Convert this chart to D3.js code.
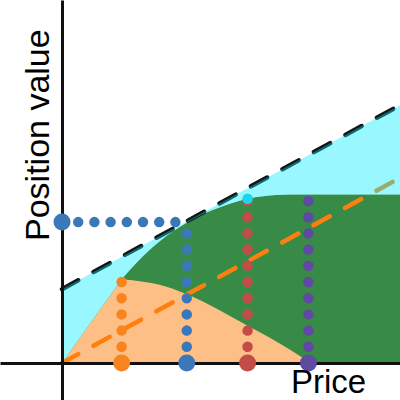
<!DOCTYPE html>
<html><head><meta charset="utf-8">
<script src="https://cdn.jsdelivr.net/npm/d3@7"></script>
<style>html,body{margin:0;padding:0;background:#fff;} svg{display:block;}</style>
</head><body>
<svg id="chart" width="400" height="400"></svg>
<script>
// ---- data ----
const boundX = [0, 5.5];
const upperBoundY = [1.2, 4.19];   // black dashed line
const lowerBoundY = [0, 3.01];     // orange dashed line
const riseX = [0, 0.97];
const riseY = [0, 1.36];
const humpX = [0.97, 1.32, 1.59, 1.97, 2.41, 2.94, 3.50, 3.92, 4.03];
const humpY = [1.36, 1.32, 1.27, 1.14, 0.94, 0.65, 0.34, 0.08, 0];
const valueX = [0.97, 1.32, 1.59, 1.84, 2.03, 2.41, 2.73, 3.02, 3.27, 3.71, 5.5];
const valueY = [1.36, 1.74, 1.98, 2.16, 2.28, 2.47, 2.59, 2.67, 2.71, 2.74, 2.74];
const markX = [0.97, 2.03, 3.02, 4.01];
const markTop = [1.36, 2.29, 2.67, 2.71];
const markColors = ["#f7841e", "#3b78b8", "#c44c46", "#5e4aa0"];
const levelY = 2.29;
const xLabel = "Price";
const yLabel = "Position value";

// ---- layout ----
const W = 400, H = 400;
const x = d3.scaleLinear().domain([0, 5.5]).range([62, 400]);
const y = d3.scaleLinear().domain([0, 5.9]).range([363, 0]);
const svg = d3.select("#chart");
const pts = (xs, ys) => xs.map((v, i) => [v, ys[i]]);
const lin = d3.line().x(d => x(d[0])).y(d => y(d[1]));
const mono = d3.line().x(d => x(d[0])).y(d => y(d[1])).curve(d3.curveMonotoneX);

const rise = lin(pts(riseX, riseY));
const humpPath = rise + mono(pts(humpX, humpY)).replace(/^M/, "L") + "Z";
const valueCurve = rise + mono(pts(valueX, valueY)).replace(/^M/, "L");
const lastX = x(valueX[valueX.length - 1]);
const greenPath = valueCurve + `L${lastX},${y(0)}Z`;
const topPx = y.range()[1];
const abovePath = valueCurve + `L${lastX},${topPx}L${x(riseX[0])},${topPx}Z`;

svg.append("defs").append("clipPath").attr("id", "aboveValue")
  .append("path").attr("d", abovePath);

svg.append("path").attr("d", greenPath).attr("fill", "#388b47");
svg.append("path").attr("d", humpPath).attr("fill", "#fdbf86");

svg.append("path").attr("d", lin(pts(boundX, lowerBoundY)))
  .attr("fill", "none").attr("stroke", "#ff7f0e").attr("stroke-width", 4.5)
  .attr("stroke-linecap", "round").attr("stroke-dasharray", "18.5 17.35");
svg.append("path").attr("d", lin(pts(boundX, upperBoundY)))
  .attr("fill", "none").attr("stroke", "#151515").attr("stroke-width", 4.5)
  .attr("stroke-linecap", "round").attr("stroke-dasharray", "18.5 17.35");

const band = d3.area().x(d => x(d[0])).y0(y(0)).y1(d => y(d[1]));
svg.append("path").attr("d", band(pts(boundX, upperBoundY)))
  .attr("fill", "rgb(0,237,255)").attr("fill-opacity", 0.4)
  .attr("clip-path", "url(#aboveValue)");

// axes (spines crossing at the origin, no ticks)
const xAxisScale = d3.scaleLinear().domain([x.invert(0), x.invert(W)]).range([0, W]);
const yAxisScale = d3.scaleLinear().domain([y.invert(H), y.invert(0)]).range([H, 0]);
const gx = svg.append("g").attr("transform", `translate(0,${y(0)})`)
  .call(d3.axisBottom(xAxisScale).tickValues([]).tickSizeOuter(0));
const gy = svg.append("g").attr("transform", `translate(${x(0)},0)`)
  .call(d3.axisLeft(yAxisScale).tickValues([]).tickSizeOuter(0));
[gx, gy].forEach(g => g.select(".domain").attr("stroke", "#111").attr("stroke-width", 3));

// dotted guide lines
markX.forEach((mx, i) => {
  svg.append("path").attr("d", lin([[mx, 0], [mx, markTop[i]]]))
    .attr("fill", "none").attr("stroke", markColors[i]).attr("stroke-width", 10.5)
    .attr("stroke-linecap", "round").attr("stroke-dasharray", "0 16.2");
});
svg.append("path").attr("d", lin([[0, levelY], [markX[1], levelY]]))
  .attr("fill", "none").attr("stroke", markColors[1]).attr("stroke-width", 10.5)
  .attr("stroke-linecap", "round").attr("stroke-dasharray", "0 16.2");

// big markers
markX.forEach((mx, i) => {
  svg.append("circle").attr("cx", x(mx)).attr("cy", y(0)).attr("r", 8.5).attr("fill", markColors[i]);
});
svg.append("circle").attr("cx", x(0)).attr("cy", y(levelY)).attr("r", 8.5).attr("fill", markColors[1]);
svg.append("circle").attr("cx", x(markX[2])).attr("cy", y(markTop[2])).attr("r", 5.3).attr("fill", "#1ad6e6");

// labels
svg.append("text").attr("transform", "translate(49,241) rotate(-90)")
  .attr("font-family", "Liberation Sans, Arial, sans-serif").attr("font-size", 34)
  .attr("fill", "#000").text(yLabel);
svg.append("text").attr("x", 291).attr("y", 393)
  .attr("font-family", "Liberation Sans, Arial, sans-serif").attr("font-size", 33)
  .attr("fill", "#000").text(xLabel);
</script>
</body></html>
